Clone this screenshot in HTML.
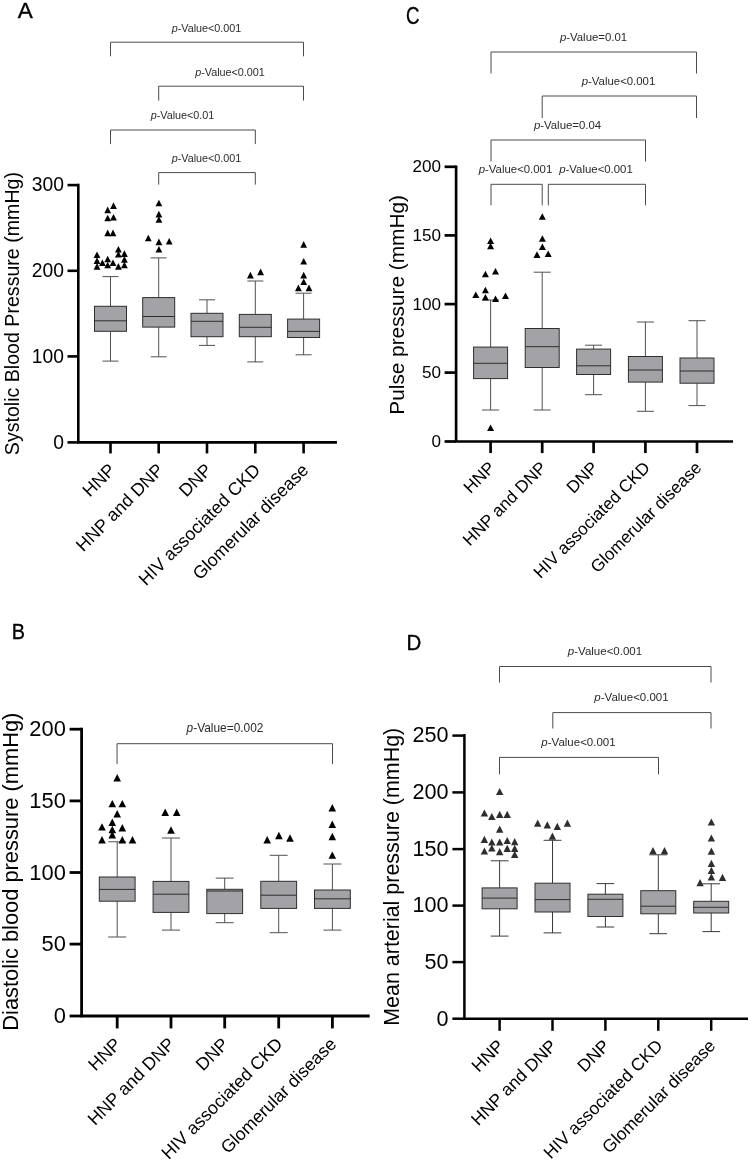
<!DOCTYPE html>
<html lang="en"><head><meta charset="utf-8"><title>Blood pressure box plots</title>
<style>
html,body{margin:0;padding:0;background:#fff;}
body{width:750px;height:1161px;overflow:hidden;}
svg{display:block;font-family:'Liberation Sans', Arial, sans-serif;}
</style></head>
<body>
<svg width="750" height="1161" viewBox="0 0 750 1161">
<rect width="750" height="1161" fill="#fff"/>
<path d="M78.3 183.8V442.4H337" fill="none" stroke="#000" stroke-width="2.6" stroke-linejoin="miter"/>
<path d="M67.5 185.1H78.3" stroke="#000" stroke-width="2.6"/>
<text x="63.9" y="191.3" font-size="19.3" text-anchor="end">300</text>
<path d="M67.5 270.8H78.3" stroke="#000" stroke-width="2.6"/>
<text x="63.9" y="277.0" font-size="19.3" text-anchor="end">200</text>
<path d="M67.5 356.4H78.3" stroke="#000" stroke-width="2.6"/>
<text x="63.9" y="362.6" font-size="19.3" text-anchor="end">100</text>
<path d="M67.5 442.4H78.3" stroke="#000" stroke-width="2.6"/>
<text x="63.9" y="448.6" font-size="19.3" text-anchor="end">0</text>
<path d="M110.5 442.4V453.4" stroke="#000" stroke-width="2.6"/>
<text transform="translate(116.5 471.1) rotate(-45)" font-size="17.9" text-anchor="end">HNP</text>
<path d="M158.7 442.4V453.4" stroke="#000" stroke-width="2.6"/>
<text transform="translate(164.7 471.1) rotate(-45)" font-size="17.9" text-anchor="end">HNP and DNP</text>
<path d="M207 442.4V453.4" stroke="#000" stroke-width="2.6"/>
<text transform="translate(213.0 471.1) rotate(-45)" font-size="17.9" text-anchor="end">DNP</text>
<path d="M255.3 442.4V453.4" stroke="#000" stroke-width="2.6"/>
<text transform="translate(261.3 471.1) rotate(-45)" font-size="17.9" text-anchor="end">HIV associated CKD</text>
<path d="M303.6 442.4V453.4" stroke="#000" stroke-width="2.6"/>
<text transform="translate(309.6 471.1) rotate(-45)" font-size="17.9" text-anchor="end">Glomerular disease</text>
<text transform="translate(19 313.6) rotate(-90)" font-size="19.6" text-anchor="middle">Systolic Blood Pressure (mmHg)</text>
<text transform="translate(17.7 18.2) scale(1.0 1)" font-size="22.5" fill="#000" stroke="#000" stroke-width="0.35">A</text>
<path d="M110.5 276.6V306.3M110.5 331.3V361.1M102.5 276.6H118.5M102.5 361.1H118.5" stroke="#505050" stroke-width="1" fill="none"/>
<rect x="94.5" y="306.3" width="32.0" height="25.0" fill="#a3a3a7" stroke="#2e2e2e" stroke-width="1"/>
<path d="M94.5 320.8H126.5" stroke="#2e2e2e" stroke-width="1"/>
<path d="M158.7 257.9V297.6M158.7 327.1V356.8M150.7 257.9H166.7M150.7 356.8H166.7" stroke="#505050" stroke-width="1" fill="none"/>
<rect x="142.7" y="297.6" width="32.0" height="29.5" fill="#a3a3a7" stroke="#2e2e2e" stroke-width="1"/>
<path d="M142.7 316.5H174.7" stroke="#2e2e2e" stroke-width="1"/>
<path d="M207 299.8V313.3M207 336.7V345.4M199.0 299.8H215.0M199.0 345.4H215.0" stroke="#505050" stroke-width="1" fill="none"/>
<rect x="191.0" y="313.3" width="32.0" height="23.4" fill="#a3a3a7" stroke="#2e2e2e" stroke-width="1"/>
<path d="M191.0 321.3H223.0" stroke="#2e2e2e" stroke-width="1"/>
<path d="M255.3 281.0V314.4M255.3 336.7V361.9M247.3 281.0H263.3M247.3 361.9H263.3" stroke="#505050" stroke-width="1" fill="none"/>
<rect x="239.3" y="314.4" width="32.0" height="22.3" fill="#a3a3a7" stroke="#2e2e2e" stroke-width="1"/>
<path d="M239.3 327.3H271.3" stroke="#2e2e2e" stroke-width="1"/>
<path d="M303.6 293.2V319.1M303.6 337.5V354.8M295.6 293.2H311.6M295.6 354.8H311.6" stroke="#505050" stroke-width="1" fill="none"/>
<rect x="287.6" y="319.1" width="32.0" height="18.4" fill="#a3a3a7" stroke="#2e2e2e" stroke-width="1"/>
<path d="M287.6 331.4H319.6" stroke="#2e2e2e" stroke-width="1"/>
<path d="M110.1 208.9L113.5 202.3L116.9 208.9Z" fill="#000"/>
<path d="M104.3 213.2L107.7 206.6L111.1 213.2Z" fill="#000"/>
<path d="M104.3 221.3L107.7 214.7L111.1 221.3Z" fill="#000"/>
<path d="M110.1 220.6L113.5 214.0L116.9 220.6Z" fill="#000"/>
<path d="M104.3 236.2L107.7 229.6L111.1 236.2Z" fill="#000"/>
<path d="M109.6 236.2L113.0 229.6L116.4 236.2Z" fill="#000"/>
<path d="M115.0 252.6L118.4 246.0L121.8 252.6Z" fill="#000"/>
<path d="M121.0 256.9L124.4 250.3L127.8 256.9Z" fill="#000"/>
<path d="M115.0 257.5L118.4 250.9L121.8 257.5Z" fill="#000"/>
<path d="M93.6 258.0L97.0 251.4L100.4 258.0Z" fill="#000"/>
<path d="M121.0 262.7L124.4 256.1L127.8 262.7Z" fill="#000"/>
<path d="M104.3 262.3L107.7 255.7L111.1 262.3Z" fill="#000"/>
<path d="M93.6 263.9L97.0 257.3L100.4 263.9Z" fill="#000"/>
<path d="M99.0 266.1L102.4 259.5L105.8 266.1Z" fill="#000"/>
<path d="M109.6 266.1L113.0 259.5L116.4 266.1Z" fill="#000"/>
<path d="M104.3 268.3L107.7 261.7L111.1 268.3Z" fill="#000"/>
<path d="M121.0 268.3L124.4 261.7L127.8 268.3Z" fill="#000"/>
<path d="M93.6 269.7L97.0 263.1L100.4 269.7Z" fill="#000"/>
<path d="M115.0 269.7L118.4 263.1L121.8 269.7Z" fill="#000"/>
<path d="M155.5 206.3L158.9 199.7L162.3 206.3Z" fill="#000"/>
<path d="M155.5 217.4L158.9 210.8L162.3 217.4Z" fill="#000"/>
<path d="M155.5 222.8L158.9 216.2L162.3 222.8Z" fill="#000"/>
<path d="M144.9 241.3L148.3 234.7L151.7 241.3Z" fill="#000"/>
<path d="M155.5 245.2L158.9 238.6L162.3 245.2Z" fill="#000"/>
<path d="M165.8 244.5L169.2 237.9L172.6 244.5Z" fill="#000"/>
<path d="M155.5 252.6L158.9 246.0L162.3 252.6Z" fill="#000"/>
<path d="M247.0 278.4L250.4 271.8L253.8 278.4Z" fill="#000"/>
<path d="M257.2 275.2L260.6 268.6L264.0 275.2Z" fill="#000"/>
<path d="M300.3 247.7L303.7 241.1L307.1 247.7Z" fill="#000"/>
<path d="M300.3 264.5L303.7 257.9L307.1 264.5Z" fill="#000"/>
<path d="M300.3 278.4L303.7 271.8L307.1 278.4Z" fill="#000"/>
<path d="M300.3 285.0L303.7 278.4L307.1 285.0Z" fill="#000"/>
<path d="M295.0 291.2L298.4 284.6L301.8 291.2Z" fill="#000"/>
<path d="M305.6 291.2L309.0 284.6L312.4 291.2Z" fill="#000"/>
<path d="M110.5 56.3V42.2H303.5V56.3" fill="none" stroke="#4a4a4a" stroke-width="1"/>
<text x="206.5" y="31.7" font-size="10.8" text-anchor="middle" fill="#2a2a2a"><tspan font-style="italic">p</tspan>-Value&lt;0.001</text>
<path d="M158.7 100.6V86.2H303.5V100.6" fill="none" stroke="#4a4a4a" stroke-width="1"/>
<text x="230" y="76" font-size="10.8" text-anchor="middle" fill="#2a2a2a"><tspan font-style="italic">p</tspan>-Value&lt;0.001</text>
<path d="M110.5 144.1V130H255.3V144.1" fill="none" stroke="#4a4a4a" stroke-width="1"/>
<text x="182.5" y="119.2" font-size="10.8" text-anchor="middle" fill="#2a2a2a"><tspan font-style="italic">p</tspan>-Value&lt;0.01</text>
<path d="M158.7 184.6V172.6H255.3V184.6" fill="none" stroke="#4a4a4a" stroke-width="1"/>
<text x="206.5" y="161.7" font-size="10.8" text-anchor="middle" fill="#2a2a2a"><tspan font-style="italic">p</tspan>-Value&lt;0.001</text>
<path d="M456.1 165.5V441.5H733" fill="none" stroke="#000" stroke-width="2.7" stroke-linejoin="miter"/>
<path d="M444.6 166.8H456.1" stroke="#000" stroke-width="2.7"/>
<text x="441.0" y="172.2" font-size="17.1" text-anchor="end">200</text>
<path d="M444.6 235.4H456.1" stroke="#000" stroke-width="2.7"/>
<text x="441.0" y="240.8" font-size="17.1" text-anchor="end">150</text>
<path d="M444.6 304.1H456.1" stroke="#000" stroke-width="2.7"/>
<text x="441.0" y="309.5" font-size="17.1" text-anchor="end">100</text>
<path d="M444.6 372.6H456.1" stroke="#000" stroke-width="2.7"/>
<text x="441.0" y="378.0" font-size="17.1" text-anchor="end">50</text>
<path d="M444.6 441.5H456.1" stroke="#000" stroke-width="2.7"/>
<text x="441.0" y="446.9" font-size="17.1" text-anchor="end">0</text>
<path d="M490.6 441.5V453.1" stroke="#000" stroke-width="2.7"/>
<text transform="translate(496.1 468.7) rotate(-45)" font-size="17.15" text-anchor="end">HNP</text>
<path d="M542.2 441.5V453.1" stroke="#000" stroke-width="2.7"/>
<text transform="translate(547.7 468.7) rotate(-45)" font-size="17.15" text-anchor="end">HNP and DNP</text>
<path d="M593.6 441.5V453.1" stroke="#000" stroke-width="2.7"/>
<text transform="translate(599.1 468.7) rotate(-45)" font-size="17.15" text-anchor="end">DNP</text>
<path d="M645.4 441.5V453.1" stroke="#000" stroke-width="2.7"/>
<text transform="translate(650.9 468.7) rotate(-45)" font-size="17.15" text-anchor="end">HIV associated CKD</text>
<path d="M697 441.5V453.1" stroke="#000" stroke-width="2.7"/>
<text transform="translate(702.5 468.7) rotate(-45)" font-size="17.15" text-anchor="end">Glomerular disease</text>
<text transform="translate(404 304.9) rotate(-90)" font-size="20.8" text-anchor="middle">Pulse pressure (mmHg)</text>
<text transform="translate(405.9 23.5) scale(0.8 1)" font-size="23.3" fill="#000" stroke="#000" stroke-width="0.35">C</text>
<path d="M490.6 300.0V347.1M490.6 378.6V410.0M482.1 300.0H499.1M482.1 410.0H499.1" stroke="#505050" stroke-width="1" fill="none"/>
<rect x="473.6" y="347.1" width="34.0" height="31.5" fill="#a3a3a7" stroke="#2e2e2e" stroke-width="1"/>
<path d="M473.6 363.3H507.6" stroke="#2e2e2e" stroke-width="1"/>
<path d="M542.2 272.2V328.5M542.2 367.5V410.0M533.7 272.2H550.7M533.7 410.0H550.7" stroke="#505050" stroke-width="1" fill="none"/>
<rect x="525.2" y="328.5" width="34.0" height="39.0" fill="#a3a3a7" stroke="#2e2e2e" stroke-width="1"/>
<path d="M525.2 346.7H559.2" stroke="#2e2e2e" stroke-width="1"/>
<path d="M593.6 345.2V349.1M593.6 374.5V394.7M585.1 345.2H602.1M585.1 394.7H602.1" stroke="#505050" stroke-width="1" fill="none"/>
<rect x="576.6" y="349.1" width="34.0" height="25.4" fill="#a3a3a7" stroke="#2e2e2e" stroke-width="1"/>
<path d="M576.6 365.8H610.6" stroke="#2e2e2e" stroke-width="1"/>
<path d="M645.4 322.0V356.5M645.4 382.1V411.3M636.9 322.0H653.9M636.9 411.3H653.9" stroke="#505050" stroke-width="1" fill="none"/>
<rect x="628.4" y="356.5" width="34.0" height="25.6" fill="#a3a3a7" stroke="#2e2e2e" stroke-width="1"/>
<path d="M628.4 370.0H662.4" stroke="#2e2e2e" stroke-width="1"/>
<path d="M697 320.7V358.0M697 383.2V405.6M688.5 320.7H705.5M688.5 405.6H705.5" stroke="#505050" stroke-width="1" fill="none"/>
<rect x="680.0" y="358.0" width="34.0" height="25.2" fill="#a3a3a7" stroke="#2e2e2e" stroke-width="1"/>
<path d="M680.0 371.0H714.0" stroke="#2e2e2e" stroke-width="1"/>
<path d="M487.1 243.9L490.6 237.4L494.1 243.9Z" fill="#000"/>
<path d="M487.1 249.2L490.6 242.8L494.1 249.2Z" fill="#000"/>
<path d="M481.9 277.2L485.4 270.8L488.9 277.2Z" fill="#000"/>
<path d="M492.0 274.4L495.5 267.9L499.0 274.4Z" fill="#000"/>
<path d="M481.9 293.2L485.4 286.8L488.9 293.2Z" fill="#000"/>
<path d="M472.3 297.9L475.8 291.4L479.3 297.9Z" fill="#000"/>
<path d="M502.0 298.9L505.5 292.4L509.0 298.9Z" fill="#000"/>
<path d="M481.9 300.6L485.4 294.1L488.9 300.6Z" fill="#000"/>
<path d="M492.0 302.1L495.5 295.6L499.0 302.1Z" fill="#000"/>
<path d="M487.1 430.9L490.6 424.4L494.1 430.9Z" fill="#000"/>
<path d="M538.8 219.7L542.3 213.2L545.8 219.7Z" fill="#000"/>
<path d="M538.9 241.8L542.4 235.3L545.9 241.8Z" fill="#000"/>
<path d="M538.9 249.9L542.4 243.4L545.9 249.9Z" fill="#000"/>
<path d="M533.5 257.9L537.0 251.3L540.5 257.9Z" fill="#000"/>
<path d="M544.7 256.9L548.2 250.4L551.7 256.9Z" fill="#000"/>
<path d="M491 73.5V52H696.5V73.5" fill="none" stroke="#4a4a4a" stroke-width="1"/>
<text x="593.5" y="40.5" font-size="11.4" text-anchor="middle" fill="#2a2a2a"><tspan font-style="italic">p</tspan>-Value=0.01</text>
<path d="M542.2 118V96H696.5V118" fill="none" stroke="#4a4a4a" stroke-width="1"/>
<text x="618.5" y="85" font-size="11.4" text-anchor="middle" fill="#2a2a2a"><tspan font-style="italic">p</tspan>-Value&lt;0.001</text>
<path d="M491 161.5V140H645.5V161.5" fill="none" stroke="#4a4a4a" stroke-width="1"/>
<text x="567.5" y="129" font-size="11.4" text-anchor="middle" fill="#2a2a2a"><tspan font-style="italic">p</tspan>-Value=0.04</text>
<path d="M491 205.3V184.3H542.2V205.3" fill="none" stroke="#4a4a4a" stroke-width="1"/>
<text x="515.5" y="172.6" font-size="11.4" text-anchor="middle" fill="#2a2a2a"><tspan font-style="italic">p</tspan>-Value&lt;0.001</text>
<path d="M548.3 205.3V184.3H645.5V205.3" fill="none" stroke="#4a4a4a" stroke-width="1"/>
<text x="596" y="172.6" font-size="11.4" text-anchor="middle" fill="#2a2a2a"><tspan font-style="italic">p</tspan>-Value&lt;0.001</text>
<path d="M81.6 727.8V1016H369.7" fill="none" stroke="#000" stroke-width="2.8" stroke-linejoin="miter"/>
<path d="M69.6 729.2H81.6" stroke="#000" stroke-width="2.8"/>
<text x="65.9" y="736.4" font-size="21.9" text-anchor="end">200</text>
<path d="M69.6 800.9H81.6" stroke="#000" stroke-width="2.8"/>
<text x="65.9" y="808.1" font-size="21.9" text-anchor="end">150</text>
<path d="M69.6 872.5H81.6" stroke="#000" stroke-width="2.8"/>
<text x="65.9" y="879.7" font-size="21.9" text-anchor="end">100</text>
<path d="M69.6 944.1H81.6" stroke="#000" stroke-width="2.8"/>
<text x="65.9" y="951.3" font-size="21.9" text-anchor="end">50</text>
<path d="M69.6 1016H81.6" stroke="#000" stroke-width="2.8"/>
<text x="65.9" y="1023.2" font-size="21.9" text-anchor="end">0</text>
<path d="M117.2 1016V1028.4" stroke="#000" stroke-width="2.8"/>
<text transform="translate(122.2 1045.2) rotate(-45)" font-size="17.85" text-anchor="end">HNP</text>
<path d="M171 1016V1028.4" stroke="#000" stroke-width="2.8"/>
<text transform="translate(176.0 1045.2) rotate(-45)" font-size="17.85" text-anchor="end">HNP and DNP</text>
<path d="M224.7 1016V1028.4" stroke="#000" stroke-width="2.8"/>
<text transform="translate(229.7 1045.2) rotate(-45)" font-size="17.85" text-anchor="end">DNP</text>
<path d="M278.7 1016V1028.4" stroke="#000" stroke-width="2.8"/>
<text transform="translate(283.7 1045.2) rotate(-45)" font-size="17.85" text-anchor="end">HIV associated CKD</text>
<path d="M332.4 1016V1028.4" stroke="#000" stroke-width="2.8"/>
<text transform="translate(337.4 1045.2) rotate(-45)" font-size="17.85" text-anchor="end">Glomerular disease</text>
<text transform="translate(17.9 871.7) rotate(-90)" font-size="21.85" text-anchor="middle">Diastolic blood pressure (mmHg)</text>
<text transform="translate(11.8 639) scale(0.89 1)" font-size="22.3" fill="#000" stroke="#000" stroke-width="0.35">B</text>
<path d="M117.2 841.8V877.0M117.2 901.2V937.0M108.2 841.8H126.2M108.2 937.0H126.2" stroke="#505050" stroke-width="1" fill="none"/>
<rect x="99.3" y="877.0" width="35.8" height="24.2" fill="#a3a3a7" stroke="#2e2e2e" stroke-width="1"/>
<path d="M99.3 889.4H135.1" stroke="#2e2e2e" stroke-width="1"/>
<path d="M171 838.0V881.4M171 912.4V930.1M162.0 838.0H180.0M162.0 930.1H180.0" stroke="#505050" stroke-width="1" fill="none"/>
<rect x="153.1" y="881.4" width="35.8" height="31.0" fill="#a3a3a7" stroke="#2e2e2e" stroke-width="1"/>
<path d="M153.1 894.2H188.9" stroke="#2e2e2e" stroke-width="1"/>
<path d="M224.7 878.1V889.3M224.7 913.6V922.7M215.7 878.1H233.7M215.7 922.7H233.7" stroke="#505050" stroke-width="1" fill="none"/>
<rect x="206.8" y="889.3" width="35.8" height="24.3" fill="#a3a3a7" stroke="#2e2e2e" stroke-width="1"/>
<path d="M206.8 891.0H242.6" stroke="#2e2e2e" stroke-width="1"/>
<path d="M278.7 855.3V881.3M278.7 908.4V932.7M269.7 855.3H287.7M269.7 932.7H287.7" stroke="#505050" stroke-width="1" fill="none"/>
<rect x="260.8" y="881.3" width="35.8" height="27.1" fill="#a3a3a7" stroke="#2e2e2e" stroke-width="1"/>
<path d="M260.8 895.2H296.6" stroke="#2e2e2e" stroke-width="1"/>
<path d="M332.4 864.0V890.0M332.4 908.4V930.1M323.4 864.0H341.4M323.4 930.1H341.4" stroke="#505050" stroke-width="1" fill="none"/>
<rect x="314.5" y="890.0" width="35.8" height="18.4" fill="#a3a3a7" stroke="#2e2e2e" stroke-width="1"/>
<path d="M314.5 898.8H350.3" stroke="#2e2e2e" stroke-width="1"/>
<path d="M113.4 781.5L117.2 774.1L121.0 781.5Z" fill="#000"/>
<path d="M108.5 807.3L112.3 799.9L116.1 807.3Z" fill="#000"/>
<path d="M118.5 807.3L122.3 799.9L126.1 807.3Z" fill="#000"/>
<path d="M113.4 817.4L117.2 810.0L121.0 817.4Z" fill="#000"/>
<path d="M108.5 825.9L112.3 818.5L116.1 825.9Z" fill="#000"/>
<path d="M98.2 830.6L102.0 823.2L105.8 830.6Z" fill="#000"/>
<path d="M118.5 831.4L122.3 824.0L126.1 831.4Z" fill="#000"/>
<path d="M108.5 833.2L112.3 825.8L116.1 833.2Z" fill="#000"/>
<path d="M108.5 838.5L112.3 831.1L116.1 838.5Z" fill="#000"/>
<path d="M98.2 843.4L102.0 836.0L105.8 843.4Z" fill="#000"/>
<path d="M118.5 843.4L122.3 836.0L126.1 843.4Z" fill="#000"/>
<path d="M128.7 843.4L132.5 836.0L136.3 843.4Z" fill="#000"/>
<path d="M161.4 815.9L165.2 808.5L169.0 815.9Z" fill="#000"/>
<path d="M172.9 815.9L176.7 808.5L180.5 815.9Z" fill="#000"/>
<path d="M167.2 833.7L171.0 826.3L174.8 833.7Z" fill="#000"/>
<path d="M263.4 843.4L267.2 836.0L271.0 843.4Z" fill="#000"/>
<path d="M275.1 839.2L278.9 831.8L282.7 839.2Z" fill="#000"/>
<path d="M286.2 841.7L290.0 834.3L293.8 841.7Z" fill="#000"/>
<path d="M328.5 811.4L332.3 804.0L336.1 811.4Z" fill="#000"/>
<path d="M328.5 827.9L332.3 820.5L336.1 827.9Z" fill="#000"/>
<path d="M328.5 840.2L332.3 832.8L336.1 840.2Z" fill="#000"/>
<path d="M328.5 858.8L332.3 851.4L336.1 858.8Z" fill="#000"/>
<path d="M117.05 764.1V743.7H332.5V764.1" fill="none" stroke="#4a4a4a" stroke-width="1"/>
<text x="225" y="732.3" font-size="11.9" text-anchor="middle" fill="#2a2a2a"><tspan font-style="italic">p</tspan>-Value=0.002</text>
<path d="M464.4 734.1V1018.7H748" fill="none" stroke="#000" stroke-width="2.5" stroke-linejoin="miter"/>
<path d="M452.4 735.6H464.4" stroke="#000" stroke-width="2.5"/>
<text x="448.6" y="742.4" font-size="21.6" text-anchor="end">250</text>
<path d="M452.4 792.4H464.4" stroke="#000" stroke-width="2.5"/>
<text x="448.6" y="799.2" font-size="21.6" text-anchor="end">200</text>
<path d="M452.4 849.1H464.4" stroke="#000" stroke-width="2.5"/>
<text x="448.6" y="855.9" font-size="21.6" text-anchor="end">150</text>
<path d="M452.4 905.6H464.4" stroke="#000" stroke-width="2.5"/>
<text x="448.6" y="912.4" font-size="21.6" text-anchor="end">100</text>
<path d="M452.4 962.1H464.4" stroke="#000" stroke-width="2.5"/>
<text x="448.6" y="968.9" font-size="21.6" text-anchor="end">50</text>
<path d="M452.4 1018.7H464.4" stroke="#000" stroke-width="2.5"/>
<text x="448.6" y="1025.5" font-size="21.6" text-anchor="end">0</text>
<path d="M499.6 1018.7V1030.8" stroke="#000" stroke-width="2.5"/>
<text transform="translate(504.9 1046.9) rotate(-45)" font-size="17.5" text-anchor="end">HNP</text>
<path d="M552.5 1018.7V1030.8" stroke="#000" stroke-width="2.5"/>
<text transform="translate(557.8 1046.9) rotate(-45)" font-size="17.5" text-anchor="end">HNP and DNP</text>
<path d="M605.4 1018.7V1030.8" stroke="#000" stroke-width="2.5"/>
<text transform="translate(610.7 1046.9) rotate(-45)" font-size="17.5" text-anchor="end">DNP</text>
<path d="M658.3 1018.7V1030.8" stroke="#000" stroke-width="2.5"/>
<text transform="translate(663.6 1046.9) rotate(-45)" font-size="17.5" text-anchor="end">HIV associated CKD</text>
<path d="M711.2 1018.7V1030.8" stroke="#000" stroke-width="2.5"/>
<text transform="translate(716.5 1046.9) rotate(-45)" font-size="17.5" text-anchor="end">Glomerular disease</text>
<text transform="translate(399.1 876.8) rotate(-90)" font-size="21.46" text-anchor="middle">Mean arterial pressure (mmHg)</text>
<text transform="translate(406.4 649.5) scale(0.9 1)" font-size="22.8" fill="#000" stroke="#000" stroke-width="0.35">D</text>
<path d="M499.6 860.8V887.9M499.6 908.8V936.1M490.8 860.8H508.5M490.8 936.1H508.5" stroke="#3a3a3a" stroke-width="1" fill="none"/>
<rect x="482.1" y="887.9" width="35.0" height="20.9" fill="#a3a3a7" stroke="#2e2e2e" stroke-width="1"/>
<path d="M482.1 898.1H517.1" stroke="#2e2e2e" stroke-width="1"/>
<path d="M552.5 840.3V883.2M552.5 912.0V932.9M543.6 840.3H561.4M543.6 932.9H561.4" stroke="#3a3a3a" stroke-width="1" fill="none"/>
<rect x="535.0" y="883.2" width="35.0" height="28.8" fill="#a3a3a7" stroke="#2e2e2e" stroke-width="1"/>
<path d="M535.0 899.6H570.0" stroke="#2e2e2e" stroke-width="1"/>
<path d="M605.4 883.6V894.2M605.4 916.5V927.0M596.5 883.6H614.2M596.5 927.0H614.2" stroke="#3a3a3a" stroke-width="1" fill="none"/>
<rect x="587.9" y="894.2" width="35.0" height="22.3" fill="#a3a3a7" stroke="#2e2e2e" stroke-width="1"/>
<path d="M587.9 899.3H622.9" stroke="#2e2e2e" stroke-width="1"/>
<path d="M658.3 854.8V890.7M658.3 913.8V933.7M649.4 854.8H667.1M649.4 933.7H667.1" stroke="#3a3a3a" stroke-width="1" fill="none"/>
<rect x="640.8" y="890.7" width="35.0" height="23.1" fill="#a3a3a7" stroke="#2e2e2e" stroke-width="1"/>
<path d="M640.8 906.2H675.8" stroke="#2e2e2e" stroke-width="1"/>
<path d="M711.2 883.8V901.3M711.2 913.0V931.6M702.4 883.8H720.1M702.4 931.6H720.1" stroke="#3a3a3a" stroke-width="1" fill="none"/>
<rect x="693.7" y="901.3" width="35.0" height="11.7" fill="#a3a3a7" stroke="#2e2e2e" stroke-width="1"/>
<path d="M693.7 907.3H728.7" stroke="#2e2e2e" stroke-width="1"/>
<path d="M496.0 795.1L499.7 787.9L503.4 795.1Z" fill="#2e2e2e"/>
<path d="M480.7 816.6L484.4 809.4L488.1 816.6Z" fill="#2e2e2e"/>
<path d="M488.1 820.1L491.8 812.9L495.5 820.1Z" fill="#2e2e2e"/>
<path d="M496.0 818.0L499.7 810.8L503.4 818.0Z" fill="#2e2e2e"/>
<path d="M503.5 818.0L507.2 810.8L510.9 818.0Z" fill="#2e2e2e"/>
<path d="M496.0 832.8L499.7 825.6L503.4 832.8Z" fill="#2e2e2e"/>
<path d="M480.7 843.0L484.4 835.8L488.1 843.0Z" fill="#2e2e2e"/>
<path d="M488.1 845.6L491.8 838.4L495.5 845.6Z" fill="#2e2e2e"/>
<path d="M496.0 845.6L499.7 838.4L503.4 845.6Z" fill="#2e2e2e"/>
<path d="M503.5 844.1L507.2 836.9L510.9 844.1Z" fill="#2e2e2e"/>
<path d="M511.0 845.2L514.7 838.0L518.4 845.2Z" fill="#2e2e2e"/>
<path d="M488.1 851.6L491.8 844.4L495.5 851.6Z" fill="#2e2e2e"/>
<path d="M503.5 852.0L507.2 844.8L510.9 852.0Z" fill="#2e2e2e"/>
<path d="M511.0 852.0L514.7 844.8L518.4 852.0Z" fill="#2e2e2e"/>
<path d="M480.7 854.6L484.4 847.4L488.1 854.6Z" fill="#2e2e2e"/>
<path d="M496.0 855.2L499.7 848.0L503.4 855.2Z" fill="#2e2e2e"/>
<path d="M511.0 858.0L514.7 850.8L518.4 858.0Z" fill="#2e2e2e"/>
<path d="M534.0 826.7L537.7 819.5L541.4 826.7Z" fill="#2e2e2e"/>
<path d="M543.6 828.4L547.3 821.2L551.0 828.4Z" fill="#2e2e2e"/>
<path d="M553.6 830.0L557.3 822.8L561.0 830.0Z" fill="#2e2e2e"/>
<path d="M563.7 826.7L567.4 819.5L571.1 826.7Z" fill="#2e2e2e"/>
<path d="M548.7 839.8L552.4 832.6L556.1 839.8Z" fill="#2e2e2e"/>
<path d="M649.3 854.2L653.0 847.0L656.7 854.2Z" fill="#2e2e2e"/>
<path d="M660.8 854.2L664.5 847.0L668.2 854.2Z" fill="#2e2e2e"/>
<path d="M707.7 825.6L711.4 818.4L715.1 825.6Z" fill="#2e2e2e"/>
<path d="M707.7 841.6L711.4 834.4L715.1 841.6Z" fill="#2e2e2e"/>
<path d="M707.7 854.8L711.4 847.6L715.1 854.8Z" fill="#2e2e2e"/>
<path d="M707.7 867.0L711.4 859.8L715.1 867.0Z" fill="#2e2e2e"/>
<path d="M707.7 874.0L711.4 866.8L715.1 874.0Z" fill="#2e2e2e"/>
<path d="M707.7 880.4L711.4 873.2L715.1 880.4Z" fill="#2e2e2e"/>
<path d="M718.8 881.0L722.5 873.8L726.2 881.0Z" fill="#2e2e2e"/>
<path d="M696.4 886.2L700.1 879.0L703.8 886.2Z" fill="#2e2e2e"/>
<path d="M499.5 682.5V666.5H711V682.5" fill="none" stroke="#4a4a4a" stroke-width="1"/>
<text x="605" y="654.6" font-size="11.5" text-anchor="middle" fill="#2a2a2a"><tspan font-style="italic">p</tspan>-Value&lt;0.001</text>
<path d="M552.8 728.5V712.6H711V728.5" fill="none" stroke="#4a4a4a" stroke-width="1"/>
<text x="631.5" y="701.1" font-size="11.5" text-anchor="middle" fill="#2a2a2a"><tspan font-style="italic">p</tspan>-Value&lt;0.001</text>
<path d="M499.5 774.3V757.4H658.5V774.3" fill="none" stroke="#4a4a4a" stroke-width="1"/>
<text x="578.5" y="746.4" font-size="11.5" text-anchor="middle" fill="#2a2a2a"><tspan font-style="italic">p</tspan>-Value&lt;0.001</text>
</svg>
</body></html>
